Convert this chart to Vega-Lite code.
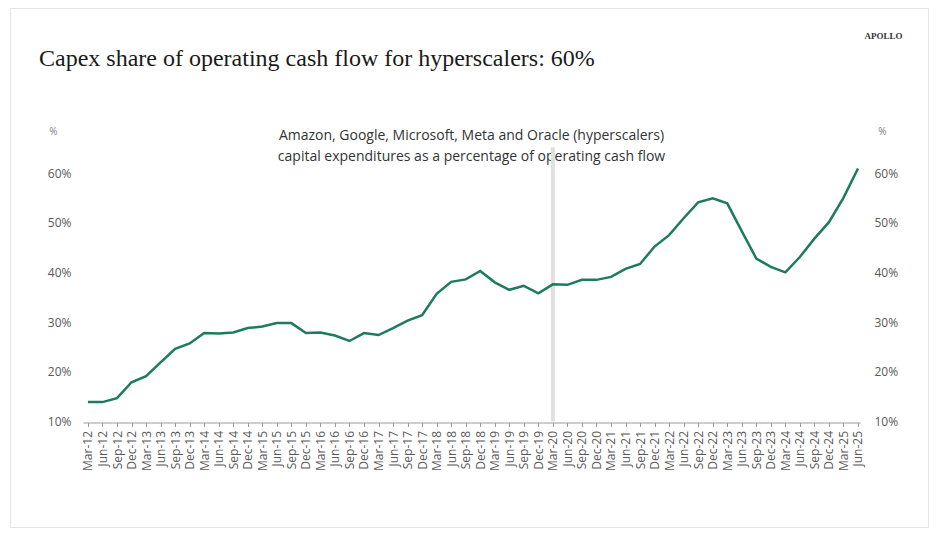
{
  "$schema": "https://vega.github.io/schema/vega-lite/v6.json",
  "description": "Capex share of operating cash flow for hyperscalers, quarterly Mar-12 to Jun-25.",
  "width": 918,
  "height": 519,
  "autosize": {"type": "none"},
  "padding": {"left": 10, "top": 8, "right": 8, "bottom": 6},
  "background": "white",
  "title": {
    "text": "Capex share of operating cash flow for hyperscalers: 60%",
    "anchor": "start",
    "frame": "group",
    "offset": -82,
    "baseline": "alphabetic",
    "dx": 29,
    "font": "Liberation Serif",
    "fontSize": 24,
    "fontWeight": "normal",
    "color": "#1a1a1a"
  },
  "data": {
    "values": [
      {"q": "Mar-12", "v": 13.9}, {"q": "Jun-12", "v": 13.9}, {"q": "Sep-12", "v": 14.7}, {"q": "Dec-12", "v": 17.9},
      {"q": "Mar-13", "v": 19.1}, {"q": "Jun-13", "v": 21.9}, {"q": "Sep-13", "v": 24.6}, {"q": "Dec-13", "v": 25.7},
      {"q": "Mar-14", "v": 27.8}, {"q": "Jun-14", "v": 27.7}, {"q": "Sep-14", "v": 27.9}, {"q": "Dec-14", "v": 28.8},
      {"q": "Mar-15", "v": 29.1}, {"q": "Jun-15", "v": 29.8}, {"q": "Sep-15", "v": 29.8}, {"q": "Dec-15", "v": 27.8},
      {"q": "Mar-16", "v": 27.9}, {"q": "Jun-16", "v": 27.3}, {"q": "Sep-16", "v": 26.2}, {"q": "Dec-16", "v": 27.8},
      {"q": "Mar-17", "v": 27.4}, {"q": "Jun-17", "v": 28.8}, {"q": "Sep-17", "v": 30.3}, {"q": "Dec-17", "v": 31.4},
      {"q": "Mar-18", "v": 35.7}, {"q": "Jun-18", "v": 38.1}, {"q": "Sep-18", "v": 38.6}, {"q": "Dec-18", "v": 40.3},
      {"q": "Mar-19", "v": 38.0}, {"q": "Jun-19", "v": 36.5}, {"q": "Sep-19", "v": 37.3}, {"q": "Dec-19", "v": 35.8},
      {"q": "Mar-20", "v": 37.6}, {"q": "Jun-20", "v": 37.5}, {"q": "Sep-20", "v": 38.5}, {"q": "Dec-20", "v": 38.5},
      {"q": "Mar-21", "v": 39.1}, {"q": "Jun-21", "v": 40.7}, {"q": "Sep-21", "v": 41.7}, {"q": "Dec-21", "v": 45.2},
      {"q": "Mar-22", "v": 47.5}, {"q": "Jun-22", "v": 50.9}, {"q": "Sep-22", "v": 54.1}, {"q": "Dec-22", "v": 54.9},
      {"q": "Mar-23", "v": 53.9}, {"q": "Jun-23", "v": 48.3}, {"q": "Sep-23", "v": 42.8}, {"q": "Dec-23", "v": 41.1},
      {"q": "Mar-24", "v": 40.0}, {"q": "Jun-24", "v": 43.1}, {"q": "Sep-24", "v": 46.8}, {"q": "Dec-24", "v": 50.1},
      {"q": "Mar-25", "v": 55.0}, {"q": "Jun-25", "v": 60.9}
    ]
  },
  "layer": [
    {
      "mark": {"type": "rule", "color": "#e0e0e0", "strokeWidth": 4},
      "encoding": {
        "x": {
          "field": "q",
          "type": "ordinal",
          "sort": null,
          "axis": {
            "orient": "top",
            "labels": false,
            "ticks": false,
            "domain": false,
            "grid": false,
            "title": "APOLLO",
            "titleX": 873,
            "titleY": 27,
            "titleAngle": 0,
            "titleAlign": "center",
            "titleBaseline": "middle",
            "titleFont": "Liberation Serif",
            "titleFontSize": 9,
            "titleFontWeight": "bold",
            "titleColor": "#333333"
          }
        },
        "y": {
          "datum": 10,
          "type": "quantitative",
          "axis": {
            "orient": "right",
            "offset": -68,
            "values": [10, 20, 30, 40, 50, 60],
            "labelExpr": "datum.value + '%'",
            "domain": false,
            "ticks": false,
            "grid": false,
            "labelPadding": 14,
            "labelFont": "Open Sans",
            "labelFontSize": 12,
            "labelColor": "#595959",
            "title": "%",
            "titleX": 22,
            "titleY": 123,
            "titleAngle": 0,
            "titleAlign": "center",
            "titleBaseline": "middle",
            "titleFont": "Open Sans",
            "titleFontSize": 10,
            "titleFontWeight": "normal",
            "titleColor": "#7f7f7f"
          }
        },
        "y2": {"datum": 65.2},
        "strokeOpacity": {"condition": {"test": "datum.q === 'Mar-20'", "value": 1}, "value": 0}
      }
    },
    {
      "mark": {"type": "line", "color": "#1e7a60", "strokeWidth": 2.5},
      "encoding": {
        "x": {
          "field": "q",
          "type": "ordinal",
          "sort": null,
          "scale": {"type": "point", "range": [73, 850], "padding": 0.24, "align": 0.71},
          "axis": {
            "orient": "bottom",
            "offset": -104.5,
            "labelAngle": 270,
            "labelAlign": "right",
            "labelBaseline": "middle",
            "labelOverlap": false,
            "labelPadding": 4,
            "labelFont": "Open Sans",
            "labelFontSize": 12,
            "labelColor": "#595959",
            "tickSize": 4,
            "tickColor": "#9a9a9a",
            "domainColor": "#9a9a9a",
            "grid": false,
            "title": [
              "Amazon, Google, Microsoft, Meta and Oracle (hyperscalers)",
              "capital expenditures as a percentage of operating cash flow"
            ],
            "titleX": 461,
            "titleY": -294,
            "titleAngle": 0,
            "titleAlign": "center",
            "titleBaseline": "top",
            "titleLineHeight": 21,
            "titleFont": "Open Sans",
            "titleFontSize": 14,
            "titleFontWeight": "normal",
            "titleColor": "#333333"
          }
        },
        "y": {
          "field": "v",
          "type": "quantitative",
          "scale": {"domain": [10, 60], "range": [413.5, 165], "nice": false, "zero": false},
          "axis": {
            "orient": "left",
            "offset": -73,
            "values": [10, 20, 30, 40, 50, 60],
            "labelExpr": "datum.value + '%'",
            "domain": false,
            "ticks": false,
            "grid": false,
            "labelPadding": 12,
            "labelFont": "Open Sans",
            "labelFontSize": 12,
            "labelColor": "#595959",
            "title": "%",
            "titleX": -30,
            "titleY": 123,
            "titleAngle": 0,
            "titleAlign": "center",
            "titleBaseline": "middle",
            "titleFont": "Open Sans",
            "titleFontSize": 10,
            "titleFontWeight": "normal",
            "titleColor": "#7f7f7f"
          }
        }
      }
    }
  ],
  "resolve": {"axis": {"x": "independent", "y": "independent"}},
  "config": {
    "view": {"stroke": "#e4e4e4", "strokeWidth": 1}
  }
}
